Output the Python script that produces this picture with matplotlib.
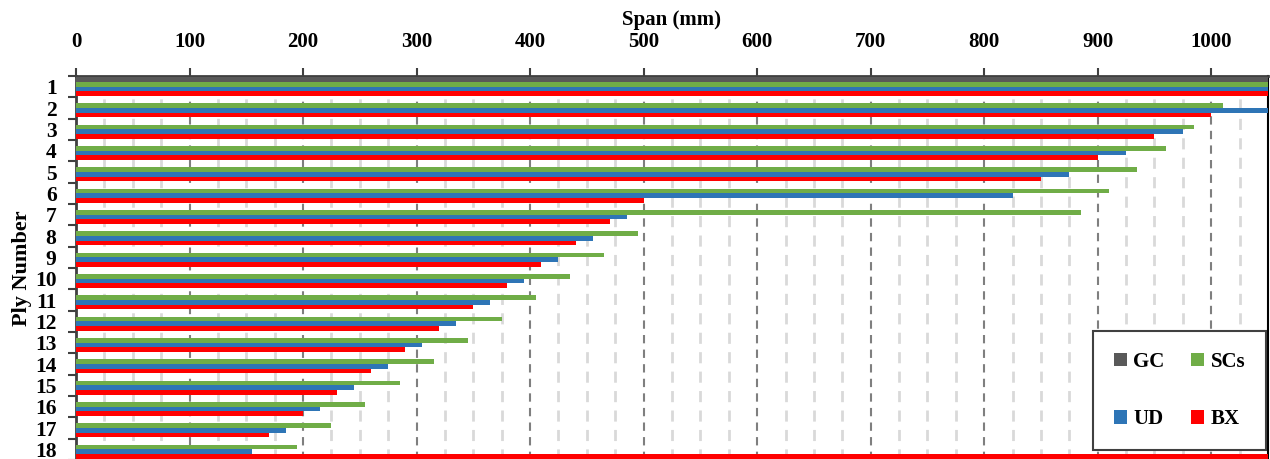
import matplotlib
matplotlib.use("Agg")
import matplotlib.pyplot as plt
from matplotlib.patches import Patch
from matplotlib.ticker import MultipleLocator
import numpy as np

plt.rcParams['font.family'] = ['Liberation Serif', 'DejaVu Serif']
plt.rcParams['font.weight'] = 'bold'

# ply numbers and span of each ply (mm) for every layup
plies = [str(i) for i in range(1, 19)]
gc = [1100, 0, 0, 0, 0, 0, 0, 0, 0, 0, 0, 0, 0, 0, 0, 0, 0, 0]
scs = [1100, 1010, 985, 960, 935, 910, 885, 495, 465, 435, 405, 375, 345, 315, 285, 255, 225, 195]
ud = [1100, 1100, 975, 925, 875, 825, 485, 455, 425, 395, 365, 335, 305, 275, 245, 215, 185, 155]
bx = [1100, 1000, 950, 900, 850, 500, 470, 440, 410, 380, 350, 320, 290, 260, 230, 200, 170, 1100]

series = [('GC', gc, '#595959'), ('SCs', scs, '#70AD47'),
          ('UD', ud, '#2E75B6'), ('BX', bx, '#FF0000')]

fig = plt.figure(figsize=(12.7, 4.59), dpi=100)
ax = fig.add_axes([76 / 1270, -1 / 459, 1192 / 1270, 384 / 459])

y = np.arange(len(plies))
h = 0.215
for k, (name, vals, col) in enumerate(series):
    ax.barh(y + (k - 1.5) * h, vals, height=h, color=col, zorder=3)

ax.set_xlim(0, 1050)
ax.set_ylim(len(plies) - 0.5, -0.5)

# x axis on top
ax.xaxis.tick_top()
ax.xaxis.set_label_position('top')
ax.xaxis.set_major_locator(MultipleLocator(100))
ax.xaxis.set_minor_locator(MultipleLocator(25))
ax.tick_params(axis='x', which='major', length=6, width=1.5, color='#404040',
               labelsize=15, pad=11)
ax.tick_params(axis='x', which='minor', length=0)
ax.set_xlabel('Span (mm)', fontsize=15, fontweight='bold', labelpad=5)

# grid
ax.grid(axis='x', which='minor', color='#D9D9D9', linestyle=(0, (4, 3)), linewidth=2, zorder=0)
ax.grid(axis='x', which='major', color='#7F7F7F', linestyle=(0, (4, 3)), linewidth=1.5, zorder=1)

# y axis: labels centred on bands, ticks between bands
ax.set_yticks(y)
ax.set_yticklabels(plies)
ax.set_yticks(np.arange(len(plies) + 1) - 0.5, minor=True)
ax.tick_params(axis='y', which='major', length=0, labelsize=15.5, pad=14)
ax.tick_params(axis='y', which='minor', length=6, width=1.5, color='#404040')
for lab in ax.get_yticklabels():
    lab.set_verticalalignment('center_baseline')
ax.set_ylabel('Ply Number', fontsize=16, fontweight='bold', labelpad=2)

for side in ['top', 'left']:
    ax.spines[side].set_color('#404040')
    ax.spines[side].set_linewidth(2)
ax.spines['right'].set_color('black')
ax.spines['right'].set_linewidth(1.5)
ax.spines['bottom'].set_visible(False)

# legend filled column by column: GC/UD left, SCs/BX right
order = [0, 2, 1, 3]
handles = [Patch(facecolor=series[i][2], edgecolor='none', label=series[i][0]) for i in order]
leg = fig.legend(handles=handles, ncol=2, loc='upper left',
                 bbox_to_anchor=(1093 / 1270, 1 - 331 / 459), borderaxespad=0,
                 fontsize=15, handlelength=0.62, handleheight=0.62, handletextpad=0.3,
                 labelspacing=1.8, columnspacing=1.3, borderpad=1.0,
                 fancybox=False, framealpha=1, edgecolor='#404040')
leg.get_frame().set_linewidth(1.5)

fig.savefig('out.png', dpi=100)
